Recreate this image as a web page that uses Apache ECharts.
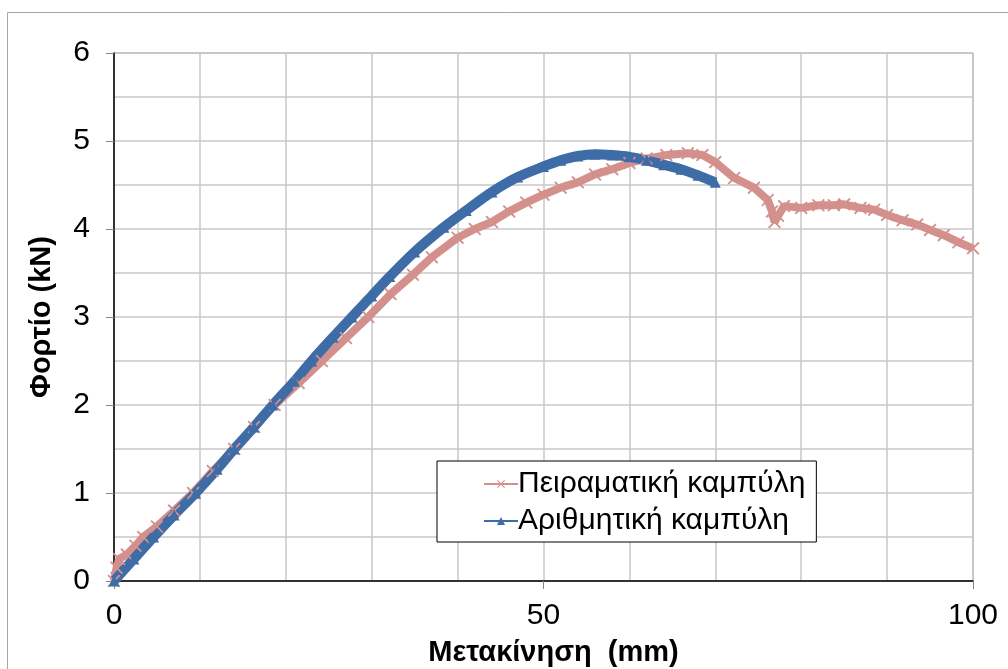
<!DOCTYPE html>
<html>
<head>
<meta charset="utf-8">
<script src="https://cdn.jsdelivr.net/npm/echarts@6/dist/echarts.min.js"></script>
<style>
  html, body { margin: 0; padding: 0; background: #fff; }
  #chart { width: 1008px; height: 669px; }
</style>
</head>
<body>
<div id="chart"></div>
<script>
// Πειραματική καμπύλη (displacement mm, load kN)
var expX = [0, 0.3, 0.6, 1.5, 2.5, 3.4, 5, 7, 9.2, 11.5, 14, 16.3, 18.7, 21.5, 24.2, 27, 29.6, 32.2, 34.8, 37,
            40, 42, 44, 46, 48, 50, 52, 54, 56, 58, 60, 62, 64.3, 66.8, 68.5, 70, 72.2, 74.5, 76.1, 76.6,
            76.9, 77.3, 78, 80, 82, 83.8, 85, 86.9, 88.5, 90, 91.8, 93.5, 95, 96.6, 98.3, 100];
var expY = [0, 0.15, 0.25, 0.3, 0.4, 0.5, 0.62, 0.8, 1.0, 1.25, 1.5, 1.75, 2.0, 2.25, 2.5, 2.76, 3.0, 3.26, 3.48, 3.68,
            3.9, 4.0, 4.08, 4.2, 4.3, 4.39, 4.47, 4.53, 4.62, 4.68, 4.75, 4.8, 4.84, 4.86, 4.84, 4.76, 4.58, 4.47, 4.33, 4.2,
            4.08, 4.15, 4.26, 4.24, 4.27, 4.27, 4.28, 4.24, 4.22, 4.16, 4.1, 4.05, 3.99, 3.93, 3.85, 3.78];

// Αριθμητική καμπύλη
var numX = [0, 2.3, 4.6, 7, 9.5, 12, 14, 16.3, 18.5, 21, 23, 25.5, 27.7, 30, 32.1, 35, 38.4, 41, 44, 47,
            50, 52, 54, 56, 58, 60, 62, 64, 66, 68, 70];
var numY = [0, 0.25, 0.5, 0.75, 1.0, 1.27, 1.5, 1.75, 2.0, 2.27, 2.5, 2.77, 3.0, 3.24, 3.46, 3.74, 4.02, 4.21, 4.42, 4.59,
            4.71, 4.78, 4.83, 4.85, 4.84, 4.82, 4.78, 4.73, 4.68, 4.61, 4.53];

var xTicks = [0, 50, 100];
var yTicks = [0, 1, 2, 3, 4, 5, 6];

function pairs(xs, ys) {
    return xs.map(function (x, i) { return [x, ys[i]]; });
}

var crossPath = 'path://M0,1L1,0L5,4L9,0L10,1L6,5L10,9L9,10L5,6L1,10L0,9L4,5Z';
var font = '"Liberation Sans", Arial, sans-serif';

var chartDom = document.getElementById('chart');
var myChart = echarts.init(chartDom);
var option;

option = {
    backgroundColor: '#fff',
    animation: false,
    graphic: [{
        type: 'rect',
        shape: { x: 7.5, y: 12.5, width: 1100, height: 700 },
        style: { fill: 'none', stroke: '#a6a6a6', lineWidth: 1 },
        z: -1
    }],
    grid: {
        left: 114, right: 35, top: 53, bottom: 88,
        outerBoundsMode: 'none',
        containLabel: false,
        show: true, borderColor: '#868686', borderWidth: 1
    },
    legend: {
        left: 437, top: 461,
        orient: 'vertical',
        padding: [8, 11, 6, 46],
        itemGap: 7,
        itemWidth: 34, itemHeight: 10,
        backgroundColor: '#fff',
        borderColor: '#000', borderWidth: 1,
        borderRadius: 0,
        textStyle: { fontFamily: font, fontSize: 30, lineHeight: 30, color: '#000', padding: [0, 0, 0, -5] },
        data: ['Πειραματική καμπύλη', 'Αριθμητική καμπύλη']
    },
    xAxis: {
        type: 'value',
        min: xTicks[0], max: xTicks[xTicks.length - 1], interval: 50,
        name: 'Μετακίνηση  (mm)',
        nameLocation: 'middle', nameGap: 57,
        nameTextStyle: { fontFamily: font, fontSize: 29, fontWeight: 'bold', color: '#000', padding: [0, 0, 0, 20] },
        axisLine: { onZero: false, lineStyle: { color: '#000', width: 1.5 } },
        axisTick: { show: true, inside: false, length: 8, lineStyle: { color: '#868686' } },
        axisLabel: { fontFamily: font, fontSize: 30, color: '#000', margin: 20 },
        splitLine: { show: true, lineStyle: { color: '#c8c8c8', width: 1.5 } },
        minorTick: { show: false, splitNumber: 5 },
        minorSplitLine: { show: true, lineStyle: { color: '#c8c8c8', width: 1.5 } }
    },
    yAxis: {
        type: 'value',
        min: yTicks[0], max: yTicks[yTicks.length - 1], interval: 1,
        name: 'Φορτίο (kN)',
        nameLocation: 'middle', nameGap: 58,
        nameTextStyle: { fontFamily: font, fontSize: 29, fontWeight: 'bold', color: '#000' },
        axisLine: { show: true, onZero: false, lineStyle: { color: '#000', width: 1.5 } },
        axisTick: { show: true, inside: false, length: 8, lineStyle: { color: '#868686' } },
        axisLabel: { fontFamily: font, fontSize: 30, color: '#000', margin: 24 },
        splitLine: { show: true, lineStyle: { color: '#c8c8c8', width: 1.5 } },
        minorTick: { show: false, splitNumber: 2 },
        minorSplitLine: { show: true, lineStyle: { color: '#c8c8c8', width: 1.5 } }
    },
    series: [
        {
            name: 'Πειραματική καμπύλη',
            type: 'line',
            data: pairs(expX, expY),
            symbol: crossPath,
            symbolSize: 13,
            showAllSymbol: true,
            color: '#d4908c',
            itemStyle: { color: '#d4908c' },
            lineStyle: { color: '#d4908c', width: 8 }
        },
        {
            name: 'Αριθμητική καμπύλη',
            type: 'line',
            data: pairs(numX, numY),
            smooth: 0.3,
            symbol: 'triangle',
            symbolSize: 11,
            showAllSymbol: true,
            color: '#3e6ca6',
            itemStyle: { color: '#3e6ca6' },
            lineStyle: { color: '#3e6ca6', width: 10 }
        }
    ]
};

option && myChart.setOption(option);
</script>
</body>
</html>
